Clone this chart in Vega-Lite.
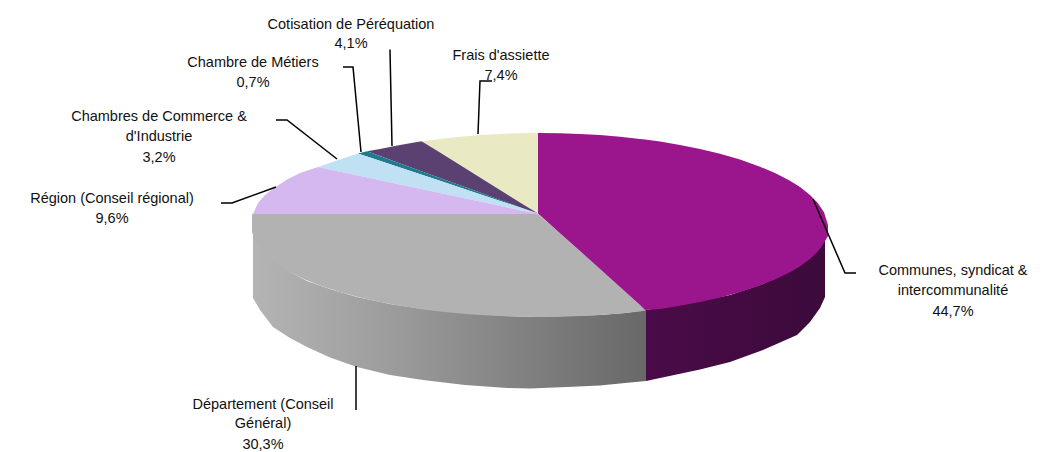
{"$schema":"https://vega.github.io/schema/vega-lite/v6.json","width":1053,"height":452,"padding":0,"autosize":{"type":"none"},"background":"white","config":{"view":{"stroke":null}},
"datasets":{
"wallGrey":[{"x":253,"y":232,"y2":298},{"x":260,"y":248,"y2":310},{"x":273,"y":260,"y2":327},{"x":290,"y":272,"y2":338},{"x":307,"y":281,"y2":347},{"x":330,"y":289,"y2":357.5},{"x":357,"y":297,"y2":367},{"x":390,"y":304,"y2":375},{"x":423,"y":309,"y2":380},{"x":465,"y":313,"y2":385},{"x":507,"y":316,"y2":388},{"x":530,"y":317,"y2":388.5},{"x":567,"y":316,"y2":387},{"x":600,"y":315,"y2":385.5},{"x":625,"y":313,"y2":383},{"x":646,"y":310,"y2":381}],
"wallPurple":[{"x":646,"y":310,"y2":381},{"x":700,"y":301,"y2":369.5},{"x":730,"y":295,"y2":362},{"x":763,"y":284,"y2":350},{"x":797,"y":266,"y2":335},{"x":810,"y":258,"y2":322},{"x":820,"y":248,"y2":308},{"x":825,"y":240,"y2":297}],
"tops":[
{"part":"Département","x":252,"y":214,"y2":232},{"part":"Département","x":256,"y":214,"y2":242.8},{"part":"Département","x":262,"y":214,"y2":251.2},{"part":"Département","x":270,"y":214,"y2":259},{"part":"Département","x":280,"y":214,"y2":266.3},{"part":"Département","x":290,"y":214,"y2":272.2},{"part":"Département","x":305,"y":214,"y2":279.5},{"part":"Département","x":320,"y":214,"y2":285.4},{"part":"Département","x":340,"y":214,"y2":292},{"part":"Département","x":360,"y":214,"y2":297.5},{"part":"Département","x":380,"y":214,"y2":302},{"part":"Département","x":400,"y":214,"y2":305.8},{"part":"Département","x":420,"y":214,"y2":308.9},{"part":"Département","x":440,"y":214,"y2":311.5},{"part":"Département","x":460,"y":214,"y2":313.5},{"part":"Département","x":480,"y":214,"y2":315},{"part":"Département","x":500,"y":214,"y2":316.1},{"part":"Département","x":520,"y":214,"y2":316.8},{"part":"Département","x":538,"y":214,"y2":317},{"part":"Département","x":560,"y":233.2,"y2":316.8},{"part":"Département","x":580,"y":251,"y2":316.1},{"part":"Département","x":600,"y":269,"y2":315},{"part":"Département","x":620,"y":287,"y2":313.5},{"part":"Département","x":640,"y":305,"y2":311.5},{"part":"Département","x":645,"y":310,"y2":310.5},
{"part":"Communes","x":538,"y":133,"y2":213.5},{"part":"Communes","x":560,"y":133.2,"y2":233.2},{"part":"Communes","x":580,"y":133.9,"y2":251},{"part":"Communes","x":600,"y":135.1,"y2":269},{"part":"Communes","x":620,"y":136.7,"y2":287},{"part":"Communes","x":640,"y":138.9,"y2":305},{"part":"Communes","x":645,"y":139.5,"y2":310},{"part":"Communes","x":660,"y":141.6,"y2":308.9},{"part":"Communes","x":680,"y":145,"y2":305.8},{"part":"Communes","x":700,"y":149,"y2":302},{"part":"Communes","x":720,"y":153.8,"y2":297.5},{"part":"Communes","x":740,"y":159.6,"y2":292},{"part":"Communes","x":760,"y":166.7,"y2":285.4},{"part":"Communes","x":775,"y":173.1,"y2":279.5},{"part":"Communes","x":790,"y":180.8,"y2":272.2},{"part":"Communes","x":800,"y":187.1,"y2":266.3},{"part":"Communes","x":810,"y":194.9,"y2":259},{"part":"Communes","x":818,"y":203.2,"y2":251.2},{"part":"Communes","x":824,"y":212.2,"y2":242.8},{"part":"Communes","x":828,"y":225,"y2":236},
{"part":"Frais","x":422,"y":141.4,"y2":141.4},{"part":"Frais","x":440,"y":138.9,"y2":152.6},{"part":"Frais","x":460,"y":136.7,"y2":165.1},{"part":"Frais","x":480,"y":135.1,"y2":177.6},{"part":"Frais","x":500,"y":133.9,"y2":190.1},{"part":"Frais","x":520,"y":133.2,"y2":202.6},{"part":"Frais","x":538,"y":133,"y2":213.5},
{"part":"Cotisation","x":367,"y":151.3,"y2":151.3},{"part":"Cotisation","x":380,"y":149,"y2":156},{"part":"Cotisation","x":400,"y":145,"y2":163.4},{"part":"Cotisation","x":420,"y":141.6,"y2":170.7},{"part":"Cotisation","x":422,"y":141.4,"y2":171.4},{"part":"Cotisation","x":440,"y":152.6,"y2":178},{"part":"Cotisation","x":460,"y":165.1,"y2":185.3},{"part":"Cotisation","x":480,"y":177.6,"y2":192.6},{"part":"Cotisation","x":500,"y":190.1,"y2":199.9},{"part":"Cotisation","x":520,"y":202.6,"y2":207.2},{"part":"Cotisation","x":538,"y":213.5,"y2":213.5},
{"part":"Métiers","x":358,"y":153.5,"y2":153.5},{"part":"Métiers","x":367,"y":151.3,"y2":156.5},{"part":"Métiers","x":400,"y":163.4,"y2":167.5},{"part":"Métiers","x":440,"y":178,"y2":180.8},{"part":"Métiers","x":480,"y":192.6,"y2":194.2},{"part":"Métiers","x":520,"y":207.2,"y2":207.5},{"part":"Métiers","x":538,"y":213.5,"y2":213.5},
{"part":"Commerce","x":318,"y":167,"y2":167},{"part":"Commerce","x":340,"y":159.6,"y2":171.7},{"part":"Commerce","x":358,"y":153.5,"y2":175.6},{"part":"Commerce","x":400,"y":167.5,"y2":184.5},{"part":"Commerce","x":440,"y":180.8,"y2":193},{"part":"Commerce","x":480,"y":194.2,"y2":201.6},{"part":"Commerce","x":520,"y":207.5,"y2":210.2},{"part":"Commerce","x":538,"y":213.5,"y2":213.5},
{"part":"Région","x":253,"y":214,"y2":214},{"part":"Région","x":258,"y":203,"y2":214},{"part":"Région","x":265,"y":195,"y2":214},{"part":"Région","x":275,"y":187.5,"y2":214},{"part":"Région","x":287,"y":179.5,"y2":214},{"part":"Région","x":300,"y":173,"y2":214},{"part":"Région","x":318,"y":167,"y2":214},{"part":"Région","x":340,"y":171.7,"y2":214},{"part":"Région","x":358,"y":175.6,"y2":214},{"part":"Région","x":400,"y":184.5,"y2":214},{"part":"Région","x":440,"y":193,"y2":214},{"part":"Région","x":480,"y":201.6,"y2":214},{"part":"Région","x":520,"y":210.2,"y2":214},{"part":"Région","x":538,"y":213.5,"y2":214}
],
"leaders":[
{"leader":"Communes","step":1,"x":813,"y":199},{"leader":"Communes","step":2,"x":845,"y":273},{"leader":"Communes","step":3,"x":856,"y":273},
{"leader":"Région","step":1,"x":276,"y":187},{"leader":"Région","step":2,"x":232,"y":203},{"leader":"Région","step":3,"x":221,"y":203},
{"leader":"Commerce","step":1,"x":337,"y":159},{"leader":"Commerce","step":2,"x":287,"y":120},{"leader":"Commerce","step":3,"x":276,"y":120},
{"leader":"Métiers","step":1,"x":361,"y":152},{"leader":"Métiers","step":2,"x":353,"y":67},{"leader":"Métiers","step":3,"x":343,"y":67},
{"leader":"Cotisation","step":1,"x":392,"y":146},{"leader":"Cotisation","step":2,"x":390,"y":49.5},
{"leader":"Frais","step":1,"x":478,"y":134},{"leader":"Frais","step":2,"x":480,"y":81},{"leader":"Frais","step":3,"x":492,"y":81},
{"leader":"Département","step":1,"x":356,"y":366},{"leader":"Département","step":2,"x":356,"y":410}
],
"labels":[
{"x":953,"y":275,"text":"Communes, syndicat &"},{"x":953,"y":295,"text":"intercommunalité"},{"x":953,"y":316,"text":"44,7%"},
{"x":112,"y":203,"text":"Région (Conseil régional)"},{"x":112,"y":223,"text":"9,6%"},
{"x":159,"y":121,"text":"Chambres de Commerce &"},{"x":159,"y":141,"text":"d'Industrie"},{"x":159,"y":162,"text":"3,2%"},
{"x":253,"y":67,"text":"Chambre de Métiers"},{"x":253,"y":87,"text":"0,7%"},
{"x":351,"y":29,"text":"Cotisation de Péréquation"},{"x":351,"y":48,"text":"4,1%"},
{"x":501,"y":60,"text":"Frais d'assiette"},{"x":501,"y":80,"text":"7,4%"},
{"x":263,"y":409,"text":"Département (Conseil"},{"x":263,"y":428,"text":"Général)"},{"x":263,"y":449,"text":"30,3%"}
]},
"encoding":{
"x":{"field":"x","type":"quantitative","scale":{"domain":[0,1053],"nice":false,"zero":false},"axis":null},
"y":{"field":"y","type":"quantitative","scale":{"domain":[452,0],"nice":false,"zero":false},"axis":null}
},
"layer":[
{"data":{"name":"wallGrey"},"mark":{"type":"area","orient":"vertical","color":{"gradient":"linear","x1":0,"x2":1,"y1":0,"y2":0,"stops":[{"offset":0,"color":"#b4b4b4"},{"offset":0.3,"color":"#a0a0a0"},{"offset":0.7,"color":"#808080"},{"offset":1,"color":"#686868"}]}},"encoding":{"y2":{"field":"y2"}}},
{"data":{"name":"wallPurple"},"mark":{"type":"area","orient":"vertical","color":{"gradient":"linear","x1":0,"x2":1,"y1":0,"y2":0,"stops":[{"offset":0,"color":"#4a0b48"},{"offset":1,"color":"#3c0a3b"}]}},"encoding":{"y2":{"field":"y2"}}},
{"data":{"name":"tops"},"mark":{"type":"area","orient":"vertical"},"encoding":{"y2":{"field":"y2"},"color":{"field":"part","type":"nominal","legend":null,"scale":{"domain":["Département","Communes","Frais","Cotisation","Métiers","Commerce","Région"],"range":["#b2b2b2","#9b158c","#e9e9c3","#5b4172","#1f7a8e","#c0e0f4","#d5b8f0"]}}}},
{"data":{"name":"leaders"},"mark":{"type":"line","color":"#000000","strokeWidth":1.5},"encoding":{"detail":{"field":"leader"},"order":{"field":"step","type":"quantitative"}}},
{"data":{"name":"labels"},"mark":{"type":"text","align":"center","baseline":"alphabetic","font":"Liberation Sans","fontSize":14.5,"color":"#111111"},"encoding":{"text":{"field":"text"}}}
]}
